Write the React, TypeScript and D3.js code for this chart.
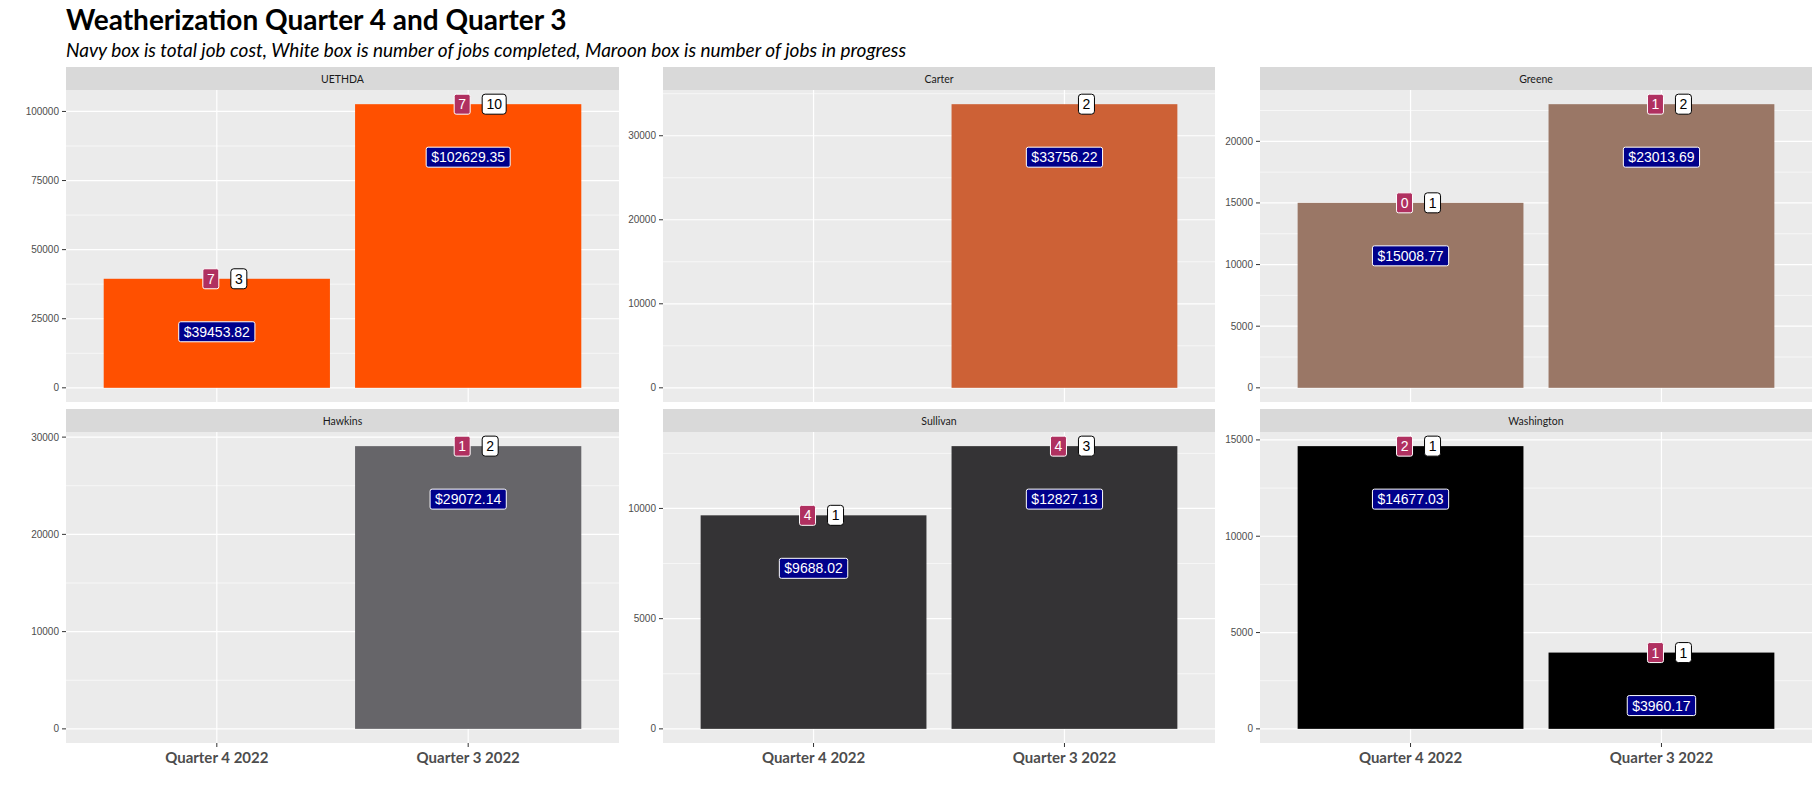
import * as d3 from "d3";

const quarters = ["Quarter 4 2022", "Quarter 3 2022"];
const agencies = ["UETHDA", "Carter", "Greene", "Hawkins", "Sullivan", "Washington"];
const colors = ["#FF5000", "#CD6136", "#9A7766", "#666569", "#343335", "#000000"];
const costs: (number | null)[][] = [
  [39453.82, 102629.35],
  [null, 33756.22],
  [15008.77, 23013.69],
  [null, 29072.14],
  [9688.02, 12827.13],
  [14677.03, 3960.17],
];
const completed: (number | null)[][] = [[3, 10], [null, 2], [1, 2], [null, 2], [1, 3], [1, 1]];
const inProgress: (number | null)[][] = [[7, 7], [null, null], [0, 1], [null, 1], [4, 4], [2, 1]];
const tickSteps = [25000, 10000, 5000, 10000, 5000, 5000];

const W = 1820;
const H = 788;
const colX = [[66, 619], [663, 1215], [1260, 1812]];
const rowY = [[67, 402], [409, 743]];
const stripH = 23;

function Panel({ i }: { i: number }) {
  const [x0, x1] = colX[i % 3];
  const [y0, y1] = rowY[Math.floor(i / 3)];
  const top = y0 + stripH;
  const maxV = d3.max(costs[i].map((v) => v ?? 0))!;
  const y = d3.scaleLinear().domain([-0.05 * maxV, 1.05 * maxV]).range([y1, top]);
  const x = d3.scaleLinear().domain([0.4, 2.6]).range([x0, x1]);
  const ticks = d3.range(0, 1.05 * maxV, tickSteps[i]);
  const minors = d3.range(tickSteps[i] / 2, 1.05 * maxV, tickSteps[i]);
  const bottomRow = i >= 3;
  return (
    <g>
      <rect x={x0} y={y0} width={x1 - x0} height={stripH} fill="#D9D9D9" />
      <text x={(x0 + x1) / 2} y={y0 + stripH / 2 + 4} textAnchor="middle" fontSize={10.5} fill="#1A1A1A" fontFamily="Lato">{agencies[i]}</text>
      <rect x={x0} y={top} width={x1 - x0} height={y1 - top} fill="#EBEBEB" />
      {minors.map((t) => <line key={"m" + t} x1={x0} x2={x1} y1={y(t)} y2={y(t)} stroke="#fff" strokeWidth={0.6} />)}
      {ticks.map((t) => (
        <g key={t}>
          <line x1={x0} x2={x1} y1={y(t)} y2={y(t)} stroke="#fff" strokeWidth={1.2} />
          <line x1={x0 - 4} x2={x0} y1={y(t)} y2={y(t)} stroke="#333" />
          <text x={x0 - 7} y={y(t) + 3.5} textAnchor="end" fontSize={10} fill="#4D4D4D" fontFamily="Liberation Sans">{t}</text>
        </g>
      ))}
      {[1, 2].map((q) => (
        <g key={q}>
          <line x1={x(q)} x2={x(q)} y1={top} y2={y1} stroke="#fff" strokeWidth={1.2} />
          {bottomRow && <line x1={x(q)} x2={x(q)} y1={y1} y2={y1 + 4} stroke="#333" />}
          {bottomRow && <text x={x(q)} y={y1 + 20} textAnchor="middle" fontSize={15} fontWeight="bold" fill="#4D4D4D" fontFamily="Lato">{quarters[q - 1]}</text>}
        </g>
      ))}
      {costs[i].map((v, k) => v == null ? null : (
        <rect key={"b" + k} x={x(k + 1 - 0.45)} width={x(k + 1.45) - x(k + 1 - 0.45)} y={y(v)} height={y(0) - y(v)} fill={colors[i]} />
      ))}
      {costs[i].map((v, k) => {
        if (v == null) return null;
        const cx = x(k + 1);
        const cy = y(v);
        const label = "$" + v.toFixed(2);
        const lw = label.length * 7.8 + 6;
        const ip = inProgress[i][k];
        const cp = completed[i][k];
        const cw = cp != null ? String(cp).length * 8 + 8 : 0;
        return (
          <g key={"l" + k} fontFamily="Liberation Sans" fontSize={14}>
            <rect x={cx - lw / 2} y={cy + 53 - 10} width={lw} height={20} rx={2} fill="#00008B" stroke="#fff" />
            <text x={cx} y={cy + 53 + 5} textAnchor="middle" fill="#fff">{label}</text>
            {ip != null && (
              <g>
                <rect x={cx - 6 - 8} y={cy - 10} width={16} height={20} rx={2} fill="#B03060" stroke="#fff" />
                <text x={cx - 6} y={cy + 5} textAnchor="middle" fill="#fff">{ip}</text>
              </g>
            )}
            {cp != null && (
              <g>
                <rect x={cx + 14} y={cy - 10} width={cw} height={20} rx={3} fill="#fff" stroke="#000" />
                <text x={cx + 14 + cw / 2} y={cy + 5} textAnchor="middle" fill="#000">{cp}</text>
              </g>
            )}
          </g>
        );
      })}
    </g>
  );
}

export default function App() {
  return (
    <svg width={W} height={H} style={{ display: "block", margin: -8 }}>
      <rect width={W} height={H} fill="#fff" />
      <text x={66} y={30} fontSize={28} fontWeight="bold" fontFamily="Lato">Weatherization Quarter 4 and Quarter 3</text>
      <text x={66} y={57} fontSize={19} fontStyle="italic" fontFamily="Lato">Navy box is total job cost, White box is number of jobs completed, Maroon box is number of jobs in progress</text>
      {agencies.map((_, i) => <Panel key={i} i={i} />)}
    </svg>
  );
}
